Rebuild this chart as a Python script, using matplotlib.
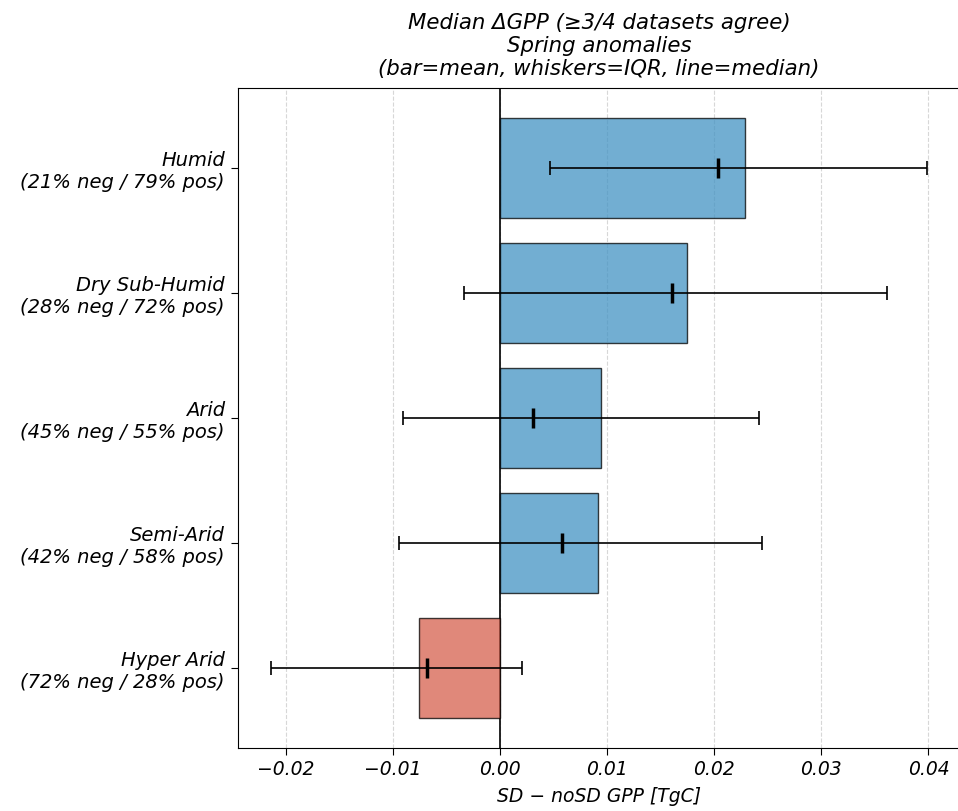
import matplotlib.pyplot as plt
import numpy as np

# climate zones, bottom to top
zones = ["Hyper Arid", "Semi-Arid", "Arid", "Dry Sub-Humid", "Humid"]
neg_pct = [72, 42, 45, 28, 21]
pos_pct = [28, 58, 55, 72, 79]

mean_vals = [-0.00754, 0.00916, 0.00944, 0.0175, 0.02287]
median_vals = [-0.0068, 0.0058, 0.0031, 0.0161, 0.0204]
q25 = [-0.0214, -0.00944, -0.00907, -0.00336, 0.00464]
q75 = [0.00203, 0.0245, 0.0242, 0.0361, 0.03988]

labels = [f"{z}\n({n}% neg / {p}% pos)" for z, n, p in zip(zones, neg_pct, pos_pct)]

plt.rcParams['font.style'] = 'italic'
plt.rcParams['font.size'] = 14

fig, ax = plt.subplots(figsize=(9.58, 8.11), dpi=100)
fig.subplots_adjust(left=0.2484, right=1.002, top=0.8915, bottom=0.0777)

y = np.arange(len(zones))
colors = ['#d6604d' if m < 0 else '#4393c3' for m in mean_vals]
ax.barh(y, mean_vals, height=0.8, color=colors, edgecolor='black', alpha=0.75, zorder=2)

med = np.array(median_vals)
xerr = [med - np.array(q25), np.array(q75) - med]
ax.errorbar(median_vals, y, xerr=xerr, fmt='none', ecolor='black', elinewidth=1.2,
            capsize=5, capthick=1.2, zorder=3)
ax.plot(median_vals, y, '|', color='black', markersize=14, markeredgewidth=2.5, zorder=4)

ax.axvline(0, color='black', linewidth=1.2, zorder=1)
ax.grid(axis='x', linestyle='--', color='lightgray', alpha=0.9, zorder=0)
ax.set_axisbelow(True)

ax.set_yticks(y)
ax.set_yticklabels(labels)
ax.tick_params(axis='both', length=5)
ax.tick_params(axis='y', labelsize=14, pad=4.5)
ax.tick_params(axis='x', labelsize=13.5, pad=3.5)
ax.set_xlabel("SD − noSD GPP [TgC]", fontsize=13.5, labelpad=6)
ax.set_title("Median ΔGPP (≥3/4 datasets agree)\nSpring anomalies\n(bar=mean, whiskers=IQR, line=median)",
             fontsize=15.3, pad=9)

plt.savefig("out.png", dpi=100)
